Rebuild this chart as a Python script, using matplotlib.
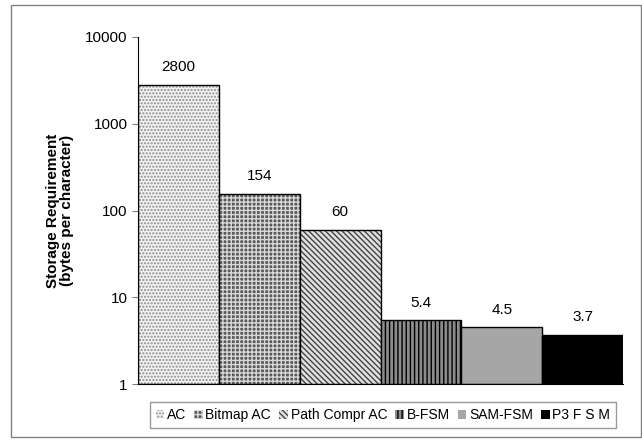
import matplotlib.pyplot as plt
import numpy as np
from matplotlib.patches import Rectangle

plt.rcParams['font.family'] = ['Liberation Sans', 'DejaVu Sans']
plt.rcParams['hatch.linewidth'] = 1.0

names = ['AC', 'Bitmap AC', 'Path Compr AC', 'B-FSM', 'SAM-FSM', 'P3 F S M']
values = [2800, 154, 60, 5.4, 4.5, 3.7]
labels = ['2800', '154', '60', '5.4', '4.5', '3.7']

faces = ['#f2f2f2', '#5a5a5a', '#e0e0e0', '#8c8c8c', '#a6a6a6', 'black']
hatch_cols = ['#8a8a8a', '#d8d8d8', '#444444', 'black', '#a6a6a6', 'black']
hatches = ['.....', '++++', '\\\\\\\\\\\\', '||||', None, None]

fig = plt.figure(figsize=(6.42, 4.42), dpi=100)
ax = fig.add_axes([138/642, 1-384/442, (623-138)/642, (384-37)/442])

x = np.arange(len(values))
for i in range(len(values)):
    ax.bar(x[i], values[i] - 1, bottom=1, width=1.0, color=faces[i],
           edgecolor=hatch_cols[i], hatch=hatches[i], linewidth=0, label=names[i])
    ax.bar(x[i], values[i] - 1, bottom=1, width=1.0, fill=False,
           edgecolor='black', linewidth=1.0)
    ax.text(x[i], values[i] * 1.33, labels[i], ha='center', va='bottom', fontsize=11)

ax.set_yscale('log')
ax.set_ylim(1, 10000)
ax.set_xlim(-0.5, len(values) - 0.5)
ax.set_yticks([1, 10, 100, 1000, 10000])
ax.set_yticklabels(['1', '10', '100', '1000', '10000'])
ax.minorticks_off()
ax.tick_params(axis='y', labelsize=11, length=4, direction='out', color='gray')
ax.set_xticks([])
ax.spines['top'].set_visible(False)
ax.spines['right'].set_visible(False)
ax.spines['left'].set_color('black')
ax.spines['bottom'].set_color('black')
ax.set_ylabel('Storage Requirement\n(bytes per character)', fontsize=11,
              fontweight='bold', labelpad=8, linespacing=1.0)

handles, lbls = ax.get_legend_handles_labels()
leg = fig.legend(handles, lbls, loc='center', bbox_to_anchor=(383/642, 1-415/442),
                 ncol=6, fontsize=10, frameon=True, fancybox=False,
                 handlelength=0.6, handleheight=0.6, handletextpad=0.2,
                 columnspacing=0.6, borderpad=0.4)
leg.get_frame().set_edgecolor('gray')
leg.get_frame().set_linewidth(1.0)

fig.patches.append(Rectangle((11/642, 5/442), 630/642, 432/442, transform=fig.transFigure,
                             fill=False, edgecolor='gray', linewidth=1.0))

fig.savefig('out.png', dpi=100)
